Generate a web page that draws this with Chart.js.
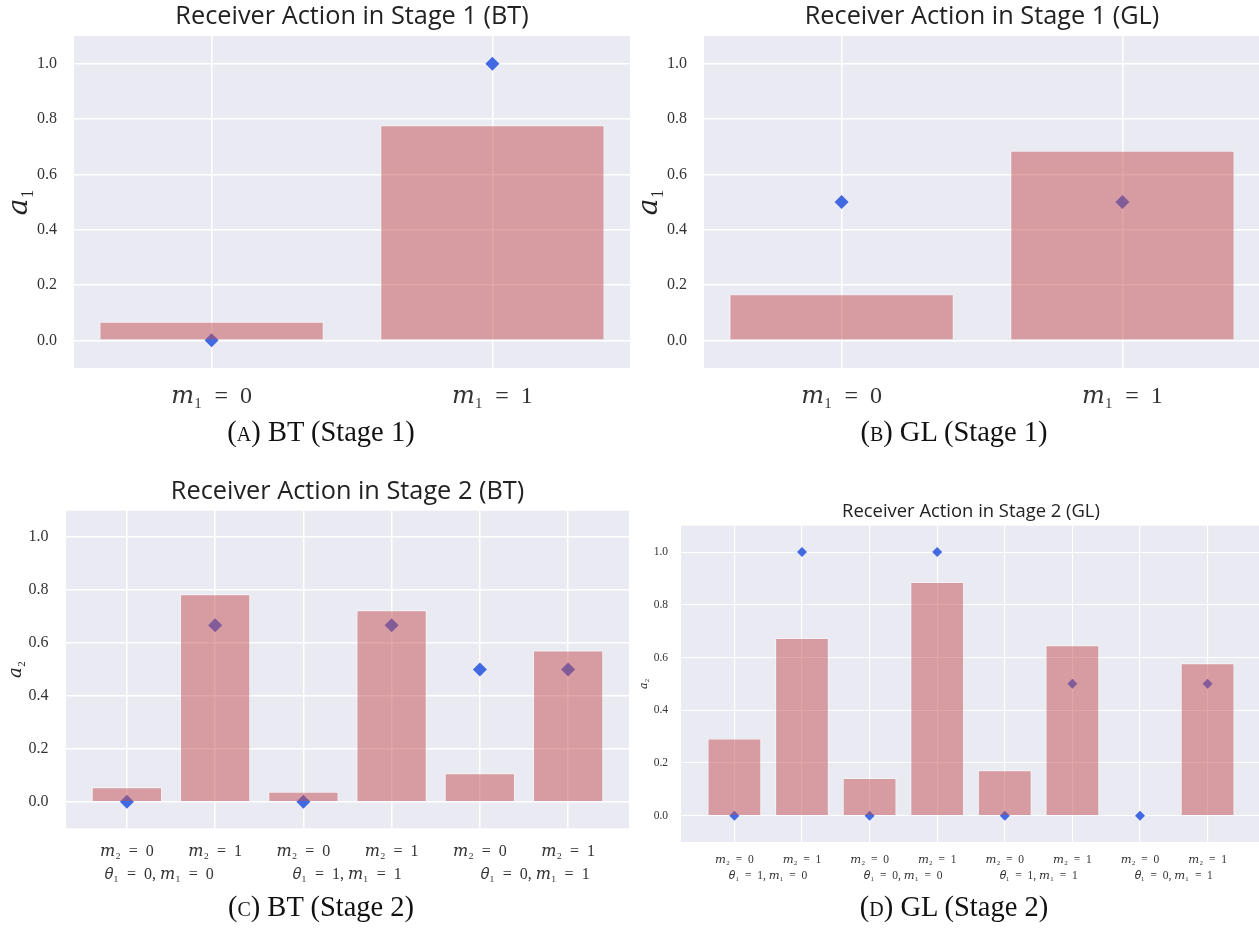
<!DOCTYPE html>
<html>
<head>
<meta charset="utf-8">
<script src="https://cdn.jsdelivr.net/npm/chart.js@4.4.1/dist/chart.umd.min.js"></script>
<style>
  html, body { margin: 0; padding: 0; background: #fff; width: 1259px; height: 928px; overflow: hidden; }
  .panel { position: absolute; }
  .cap { position: absolute; width: 400px; text-align: center; font-family: 'Liberation Serif', 'DejaVu Serif', serif; font-size: 28.5px; color: #111; line-height: 1; }
  .sc { font-variant: small-caps; }
</style>
</head>
<body>
<div class="panel" style="left:0;top:0;width:640px;height:430px"><canvas id="a"></canvas></div>
<div class="panel" style="left:630px;top:0;width:640px;height:430px"><canvas id="b"></canvas></div>
<div class="panel" style="left:0;top:470px;width:640px;height:432px"><canvas id="c"></canvas></div>
<div class="panel" style="left:630px;top:490px;width:640px;height:406px"><canvas id="d"></canvas></div>
<div class="cap" style="left:121px;top:418px">(<span class="sc">a</span>) BT (Stage 1)</div>
<div class="cap" style="left:754px;top:418px">(<span class="sc">b</span>) GL (Stage 1)</div>
<div class="cap" style="left:121px;top:893px">(<span class="sc">c</span>) BT (Stage 2)</div>
<div class="cap" style="left:754px;top:893px">(<span class="sc">d</span>) GL (Stage 2)</div>
<script>
// stage 1 categories
var stage1Labels = ['𝑚₁ = 0', '𝑚₁ = 1'];
var btStage1 = [0.068, 0.778];
var btStage1Eq = [0, 1];
var glStage1 = [0.167, 0.686];
var glStage1Eq = [0.5, 0.5];

// stage 2 BT
var btStage2Labels = ['𝑚₂ = 0', '𝑚₂ = 1', '𝑚₂ = 0', '𝑚₂ = 1', '𝑚₂ = 0', '𝑚₂ = 1'];
var btStage2Groups = ['𝜃₁ = 0, 𝑚₁ = 0', '𝜃₁ = 1, 𝑚₁ = 1', '𝜃₁ = 0, 𝑚₁ = 1'];
var btStage2GroupPos = [0.37, 2.5, 4.63];
var btStage2 = [0.056, 0.785, 0.039, 0.725, 0.109, 0.573];
var btStage2Eq = [0, 0.667, 0, 0.667, 0.5, 0.5];

// stage 2 GL
var glStage2Labels = ['𝑚₂ = 0', '𝑚₂ = 1', '𝑚₂ = 0', '𝑚₂ = 1', '𝑚₂ = 0', '𝑚₂ = 1', '𝑚₂ = 0', '𝑚₂ = 1'];
var glStage2Groups = ['𝜃₁ = 1, 𝑚₁ = 0', '𝜃₁ = 0, 𝑚₁ = 0', '𝜃₁ = 1, 𝑚₁ = 1', '𝜃₁ = 0, 𝑚₁ = 1'];
var glStage2GroupPos = [0.5, 2.5, 4.5, 6.5];
var glStage2 = [0.293, 0.675, 0.144, 0.887, 0.173, 0.647, null, 0.579];
var glStage2Eq = [0, 1, 0, 1, 0, 0.5, 0, 0.5];

var yTicks = [0, 0.2, 0.4, 0.6, 0.8, 1.0];

var SERIF = "'Liberation Serif', 'DejaVu Serif', serif";
var SANS = "'Open Sans', 'DejaVu Sans', sans-serif";

var bgPlugin = {
  id: 'bg',
  beforeDraw: function(chart) {
    var a = chart.chartArea, ctx = chart.ctx;
    ctx.save();
    ctx.fillStyle = '#EAEAF2';
    ctx.fillRect(a.left, a.top, a.right - a.left, a.bottom - a.top);
    ctx.restore();
  }
};

function toPoints(vals) {
  return vals.map(function(v, i) { return { x: i, y: v }; });
}

// math-style spacing around "="
function mathText(t) {
  return t ? t.replace(/ = /g, '\u2002=\u2002') : t;
}

// s: sizes for one panel
function makeChart(id, title, yLabel, labels, vals, eq, groups, groupPos, s) {
  var n = labels.length;
  var margin = 0.05 * (n - 0.2);
  var xmin = -0.4 - margin, xmax = n - 1 + 0.4 + margin;

  var scales = {
    x: {
      type: 'linear', position: 'bottom', min: xmin, max: xmax, offset: false,
      afterBuildTicks: function(sc) { sc.ticks = labels.map(function(l, i) { return { value: i }; }); },
      afterFit: function(sc) { sc.height = s.xH; },
      grid: { color: '#fff', lineWidth: s.grid, drawTicks: false, offset: false },
      border: { display: false },
      ticks: {
        padding: s.xPad, color: '#333', maxRotation: 0, autoSkip: false,
        font: { family: SERIF, size: s.xFont },
        callback: function(v) { return mathText(labels[v]); }
      }
    },
    y: {
      min: -0.1, max: 1.1,
      afterBuildTicks: function(sc) { sc.ticks = yTicks.map(function(v) { return { value: v }; }); },
      afterFit: function(sc) { sc.width = s.yW; },
      grid: { color: '#fff', lineWidth: s.grid, drawTicks: false },
      border: { display: false },
      ticks: {
        padding: s.yPad, color: '#333',
        font: { family: SERIF, size: s.yFont },
        callback: function(v) { return v.toFixed(1); }
      },
      title: {
        display: true, text: yLabel, color: '#222',
        font: { family: SERIF, size: s.yTitle, lineHeight: 1 },
        padding: { top: s.yTitlePad, bottom: 0 }
      }
    }
  };
  if (groups) {
    scales.x2 = {
      type: 'linear', position: 'bottom', min: xmin, max: xmax, offset: false,
      afterBuildTicks: function(sc) { sc.ticks = groupPos.map(function(p) { return { value: p }; }); },
      afterFit: function(sc) { sc.height = s.x2H; },
      grid: { display: false, drawTicks: false, offset: false },
      border: { display: false },
      ticks: {
        padding: s.x2Pad, color: '#333', maxRotation: 0, autoSkip: false,
        font: { family: SERIF, size: s.xFont },
        callback: function(v) { return mathText(groups[groupPos.indexOf(v)]); }
      }
    };
  }

  return new Chart(document.getElementById(id), {
    type: 'bar',
    data: {
      datasets: [{
        type: 'bar',
        data: toPoints(vals),
        backgroundColor: 'rgba(196, 78, 82, 0.5)',
        borderColor: 'rgba(255, 255, 255, 0.35)',
        borderWidth: 1.2,
        barPercentage: 0.8,
        categoryPercentage: 1,
        order: 1
      }, {
        type: 'scatter',
        data: toPoints(eq),
        pointStyle: 'rectRot',
        pointRadius: s.mark,
        backgroundColor: '#4169E1',
        borderWidth: 0,
        order: 2
      }]
    },
    options: {
      responsive: true,
      maintainAspectRatio: false,
      animation: false,
      layout: { padding: { left: 0, right: s.padR, top: 0, bottom: 0 } },
      plugins: {
        legend: { display: false },
        tooltip: { enabled: false },
        title: {
          display: true, text: title, fullSize: false, color: '#222',
          font: { family: SANS, size: s.tFont, weight: 'normal', lineHeight: 1 },
          padding: { top: s.tTop, bottom: s.tBot }
        }
      },
      scales: scales
    },
    plugins: [bgPlugin]
  });
}

var big = { xH: 62, xPad: 14, xFont: 24, yW: 74, yPad: 17, yFont: 16, yTitle: 28, yTitlePad: 6,
            grid: 1.5, mark: 7, padR: 10, tFont: 25.3, tTop: 3.75, tBot: 6.95 };

makeChart('a', 'Receiver Action in Stage 1 (BT)', '𝑎₁', stage1Labels, btStage1, btStage1Eq, null, null, big);
makeChart('b', 'Receiver Action in Stage 1 (GL)', '𝑎₁', stage1Labels, glStage1, glStage1Eq, null, null, big);

makeChart('c', 'Receiver Action in Stage 2 (BT)', '𝑎₂', btStage2Labels, btStage2, btStage2Eq, btStage2Groups, btStage2GroupPos,
  { xH: 33, xPad: 13.8, xFont: 16, x2H: 40.7, x2Pad: 4.1, yW: 66, yPad: 17.5, yFont: 16, yTitle: 18, yTitlePad: 7,
    grid: 1.5, mark: 7, padR: 11, tFont: 25.3, tTop: 8.95, tBot: 6.45 });

makeChart('d', 'Receiver Action in Stage 2 (GL)', '𝑎₂', glStage2Labels, glStage2, glStage2Eq, glStage2Groups, glStage2GroupPos,
  { xH: 24, xPad: 10.8, xFont: 11.5, x2H: 30, x2Pad: 3.5, yW: 51, yPad: 13, yFont: 11.5, yTitle: 11, yTitlePad: 8.5,
    grid: 1.1, mark: 5, padR: 9, tFont: 18.4, tTop: 12.5, tBot: 4.8 });
</script>
</body>
</html>
